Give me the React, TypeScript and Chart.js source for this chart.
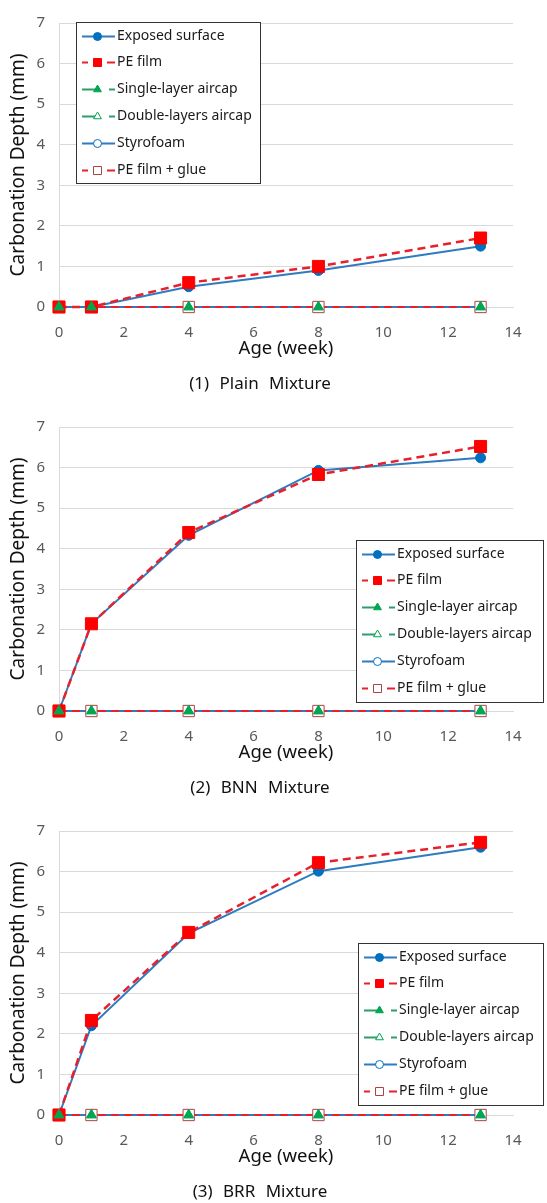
import { useEffect, useRef } from 'react';
import { Chart, registerables } from 'chart.js';

Chart.register(...registerables);

// Exposure age in weeks (shared x values)
const weeks = [0, 1, 4, 8, 13];

const seriesNames = [
  'Exposed surface',
  'PE film',
  'Single-layer aircap',
  'Double-layers aircap',
  'Styrofoam',
  'PE film + glue',
];

// (1) Plain mixture, carbonation depth in mm
const plainExposed = [0, 0, 0.5, 0.9, 1.5];
const plainPEFilm = [0, 0, 0.6, 1.0, 1.7];
const plainSingleAircap = [0, 0, 0, 0, 0];
const plainDoubleAircap = [0, 0, 0, 0, 0];
const plainStyrofoam = [0, 0, 0, 0, 0];
const plainPEGlue = [0, 0, 0, 0, 0];

// (2) BNN mixture
const bnnExposed = [0, 2.15, 4.33, 5.93, 6.24];
const bnnPEFilm = [0, 2.15, 4.4, 5.83, 6.52];
const bnnSingleAircap = [0, 0, 0, 0, 0];
const bnnDoubleAircap = [0, 0, 0, 0, 0];
const bnnStyrofoam = [0, 0, 0, 0, 0];
const bnnPEGlue = [0, 0, 0, 0, 0];

// (3) BRR mixture
const brrExposed = [0, 2.2, 4.48, 6.01, 6.6];
const brrPEFilm = [0, 2.33, 4.5, 6.22, 6.72];
const brrSingleAircap = [0, 0, 0, 0, 0];
const brrDoubleAircap = [0, 0, 0, 0, 0];
const brrStyrofoam = [0, 0, 0, 0, 0];
const brrPEGlue = [0, 0, 0, 0, 0];

const captions = ['(1) Plain Mixture', '(2) BNN Mixture', '(3) BRR Mixture'];

const xMin = 0;
const xMax = 14;
const xStep = 2;
const yMin = 0;
const yMax = 7;
const yStep = 1;

const xTitle = 'Age (week)';
const yTitle = 'Carbonation Depth (mm)';

const panelSeries = [
  [plainExposed, plainPEFilm, plainSingleAircap, plainDoubleAircap, plainStyrofoam, plainPEGlue],
  [bnnExposed, bnnPEFilm, bnnSingleAircap, bnnDoubleAircap, bnnStyrofoam, bnnPEGlue],
  [brrExposed, brrPEFilm, brrSingleAircap, brrDoubleAircap, brrStyrofoam, brrPEGlue],
];

// Legend box placement per panel (canvas pixels)
const legendBoxes = [
  { left: 76, top: 22, width: 184, height: 161 },
  { left: 356, top: 136, width: 187, height: 162 },
  { left: 358, top: 135, width: 185, height: 162 },
];

const FONT = '"Noto Sans", "DejaVu Sans", sans-serif';
const W = 547;
const H = 404;

const BLUE_LINE = '#2F7BBF';
const BLUE_MARK = '#0070C0';
const RED = '#FF0000';
const RED_LINE = '#E8202C';
const GREEN = '#00A651';
const GREEN_LINE = '#2E9E68';
const GLUE_EDGE = '#A84446';

type Style = {
  line: string;
  width: number;
  dash: number[];
  shape: string;
  radius: number;
  fill: string;
  edge: string;
  order: number;
  legendDash: 'solid' | 'dashed' | 'half';
};

const styles: Style[] = [
  { line: BLUE_LINE, width: 2, dash: [], shape: 'circle', radius: 5, fill: BLUE_MARK, edge: BLUE_MARK, order: 4, legendDash: 'solid' },
  { line: RED_LINE, width: 2.5, dash: [8, 5], shape: 'rect', radius: 8.5, fill: RED, edge: RED, order: 3, legendDash: 'dashed' },
  { line: GREEN_LINE, width: 2, dash: [12, 4, 4, 4], shape: 'triangle', radius: 5.5, fill: GREEN, edge: GREEN, order: 7, legendDash: 'half' },
  { line: GREEN_LINE, width: 2, dash: [12, 4, 4, 4], shape: 'triangle', radius: 5.5, fill: '#FFFFFF', edge: GREEN, order: 8, legendDash: 'half' },
  { line: BLUE_LINE, width: 2, dash: [], shape: 'circle', radius: 5, fill: '#FFFFFF', edge: BLUE_MARK, order: 6, legendDash: 'solid' },
  { line: RED_LINE, width: 2, dash: [8, 5], shape: 'rect', radius: 8, fill: '#FFFFFF', edge: GLUE_EDGE, order: 5, legendDash: 'dashed' },
];

function drawMarker(ctx: CanvasRenderingContext2D, s: Style, x: number, y: number, scale: number) {
  ctx.save();
  ctx.setLineDash([]);
  ctx.lineWidth = 1;
  ctx.fillStyle = s.fill;
  ctx.strokeStyle = s.edge;
  ctx.beginPath();
  if (s.shape === 'circle') {
    ctx.arc(x, y, 4 * scale, 0, Math.PI * 2);
  } else if (s.shape === 'rect') {
    const h = 4 * scale;
    ctx.rect(x - h, y - h, 2 * h, 2 * h);
  } else {
    const r = 4.5 * scale;
    ctx.moveTo(x, y - r);
    ctx.lineTo(x + r * 0.87, y + r * 0.5);
    ctx.lineTo(x - r * 0.87, y + r * 0.5);
    ctx.closePath();
  }
  ctx.fill();
  ctx.stroke();
  ctx.restore();
}

const overlayPlugin = {
  id: 'panelOverlay',
  afterDatasetsDraw(chart: any) {
    // aircap markers sit on top of the square markers at zero depth
    [3, 2].forEach((i) => {
      const meta = chart.getDatasetMeta(i);
      meta.data.forEach((pt: any) => pt.draw(chart.ctx, chart.chartArea));
    });
  },
  afterDraw(chart: any, _args: any, opts: any) {
    const ctx: CanvasRenderingContext2D = chart.ctx;
    const box = opts.box;
    ctx.save();
    // legend frame
    ctx.fillStyle = '#FFFFFF';
    ctx.fillRect(box.left, box.top, box.width, box.height);
    ctx.strokeStyle = '#333333';
    ctx.lineWidth = 1;
    ctx.strokeRect(box.left + 0.5, box.top + 0.5, box.width, box.height);

    const rowGap = 26.8;
    seriesNames.forEach((name, i) => {
      const s = styles[i];
      const y = Math.round(box.top + 13.5 + i * rowGap) + 0.5;
      const x0 = box.left + 6;
      const len = 33;
      const mid = x0 + len / 2 - 1;
      ctx.strokeStyle = s.line;
      ctx.lineWidth = 2;
      ctx.setLineDash([]);
      ctx.beginPath();
      if (s.legendDash === 'solid') {
        ctx.moveTo(x0, y);
        ctx.lineTo(x0 + len, y);
      } else if (s.legendDash === 'dashed') {
        ctx.moveTo(x0, y);
        ctx.lineTo(x0 + 6, y);
        ctx.moveTo(x0 + 25, y);
        ctx.lineTo(x0 + len, y);
      } else {
        ctx.moveTo(x0, y);
        ctx.lineTo(mid, y);
        ctx.moveTo(x0 + 27, y);
        ctx.lineTo(x0 + len, y);
      }
      ctx.stroke();
      drawMarker(ctx, s, mid, y, 1);

      ctx.fillStyle = '#1A1A1A';
      ctx.font = `14px ${FONT}`;
      ctx.textAlign = 'left';
      ctx.textBaseline = 'middle';
      ctx.fillText(name, x0 + len + 2, y);
    });

    // panel caption
    ctx.fillStyle = '#111111';
    ctx.font = `17px ${FONT}`;
    ctx.textAlign = 'center';
    ctx.textBaseline = 'middle';
    try {
      (ctx as any).wordSpacing = '6px';
    } catch (e) {
      /* older canvas */
    }
    ctx.fillText(opts.caption, 260, 384);
    ctx.restore();
  },
};

function Panel({ index }: { index: number }) {
  const ref = useRef<HTMLCanvasElement | null>(null);

  useEffect(() => {
    if (!ref.current) return;
    const values = panelSeries[index];
    const datasets = seriesNames.map((name, i) => {
      const s = styles[i];
      return {
        label: name,
        data: weeks.map((w, k) => ({ x: w, y: values[i][k] })),
        borderColor: s.line,
        borderWidth: s.width,
        borderDash: s.dash,
        pointStyle: s.shape,
        pointRadius: s.radius,
        pointBackgroundColor: s.fill,
        pointBorderColor: s.edge,
        pointBorderWidth: 1,
        tension: 0,
        fill: false,
        clip: false,
        order: s.order,
      };
    });

    const chart = new Chart(ref.current, {
      type: 'line',
      data: { datasets } as any,
      plugins: [overlayPlugin as any],
      options: {
        animation: false,
        responsive: false,
        devicePixelRatio: 1,
        layout: { padding: { left: 0, top: 13, right: 34, bottom: 44 } },
        plugins: {
          legend: { display: false },
          tooltip: { enabled: false },
          panelOverlay: { box: legendBoxes[index], caption: captions[index] },
        } as any,
        scales: {
          x: {
            type: 'linear',
            min: xMin,
            max: xMax,
            grid: { display: false },
            border: { display: true, color: '#D9D9D9' },
            ticks: {
              stepSize: xStep,
              padding: 9,
              color: '#595959',
              font: { family: FONT, size: 15 },
            },
            title: {
              display: true,
              text: xTitle,
              color: '#111111',
              padding: { top: 0, bottom: 0 },
              font: { family: FONT, size: 18.5 },
            },
            afterFit(scale: any) {
              scale.height = 53;
            },
          },
          y: {
            type: 'linear',
            min: yMin,
            max: yMax,
            grid: { color: '#D9D9D9', lineWidth: 1, drawTicks: false },
            border: { display: true, color: '#D9D9D9' },
            ticks: {
              stepSize: yStep,
              padding: 14,
              color: '#595959',
              font: { family: FONT, size: 15 },
            },
            title: {
              display: true,
              text: yTitle,
              color: '#111111',
              padding: { top: 7, bottom: 0 },
              font: { family: FONT, size: 19 },
            },
            afterFit(scale: any) {
              scale.width = 59;
            },
          },
        },
      } as any,
    });
    return () => chart.destroy();
  }, [index]);

  return <canvas ref={ref} width={W} height={H} style={{ display: 'block', width: W, height: H }} />;
}

export default function App() {
  return (
    <div style={{ position: 'absolute', left: 0, top: 0, width: W, background: '#FFFFFF' }}>
      {captions.map((_, i) => (
        <Panel key={i} index={i} />
      ))}
    </div>
  );
}
